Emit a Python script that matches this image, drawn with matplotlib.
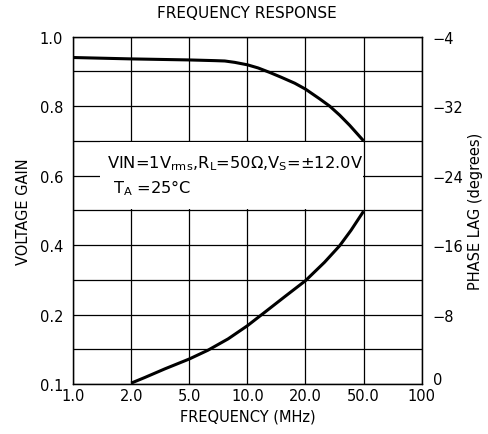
import numpy as np
import matplotlib
matplotlib.use("Agg")
import matplotlib.pyplot as plt
import matplotlib.transforms as mtransforms
from matplotlib.patches import Rectangle

# ---- data ----
freq_ticks = [1.0, 2.0, 5.0, 10.0, 20.0, 50.0, 100.0]
freq_labels = ["1.0", "2.0", "5.0", "10.0", "20.0", "50.0", "100"]

gain_grid = np.round(np.arange(0, 1.01, 0.1), 2)
gain_tick_vals = [0.0, 0.2, 0.4, 0.6, 0.8, 1.0]
gain_tick_labels = ["0.1", "0.2", "0.4", "0.6", "0.8", "1.0"]

phase_tick_vals = [0, -8, -16, -24, -32, -40]
phase_tick_labels = ["0", "\u22128", "\u221216", "\u221224", "\u221232", "\u22124"]

gain_freq = [1.0, 2.0, 5.0, 6.79, 7.64, 8.61, 10.0, 11.36, 13.06, 15.0, 17.6,
             20.0, 25.0, 29.3, 34.3, 40.1, 50.0]
gain_vals = [0.940, 0.936, 0.933, 0.931, 0.930, 0.926, 0.919, 0.910, 0.897, 0.883, 0.866,
             0.849, 0.821, 0.800, 0.774, 0.745, 0.700]

phase_freq = [2.0, 2.48, 3.41, 5.0, 6.26, 7.95, 10.0, 12.3, 15.6, 20.0, 27.0, 34.3, 41.0, 50.0]
phase_vals = [-0.1, -0.75, -1.75, -2.88, -3.9, -5.2, -6.71, -8.26, -10.05, -11.90,
              -14.02, -15.93, -17.7, -19.9]

positions = np.arange(len(freq_ticks))


def fpos(f):
    return np.interp(np.log10(f), np.log10(freq_ticks), positions)


FS = 10.5
plt.rcParams['font.family'] = ['DejaVu Sans']
fig = plt.figure(figsize=(4.89, 4.35), dpi=100)
ax = fig.add_axes([0.1493, 0.1149, 0.7131, 0.7985])
ax.set_xlim(positions[0], positions[-1])
ax.set_ylim(0, 1.0)

lw_grid = 0.9
for p in positions:
    ax.axvline(p, color='black', lw=lw_grid, zorder=1)
for g in gain_grid:
    ax.axhline(g, color='black', lw=lw_grid, zorder=1)

# white legend box covering the grid
ax.add_patch(Rectangle((0.464, 0.503), 4.99 - 0.464, 0.697 - 0.503,
                       facecolor='white', edgecolor='none', zorder=2))
ax.text(0.58, 0.637, "VIN=1V$_{\\mathrm{rms}}$,R$_{\\mathrm{L}}$=50\u03a9,V$_{\\mathrm{S}}$=\u00b112.0V",
        fontsize=11.7, va='center', ha='left', zorder=4)
ax.text(0.68, 0.567, "T$_{\\mathrm{A}}$ =25\u00b0C", fontsize=11.7, va='center', ha='left', zorder=4)

ax.plot(fpos(gain_freq), gain_vals, color='black', lw=2.2, zorder=3,
        solid_joinstyle='round', solid_capstyle='butt')

ax.set_xticks(positions)
ax.set_xticklabels(freq_labels, fontsize=FS)
ax.set_yticks(gain_tick_vals)
ax.set_yticklabels(gain_tick_labels, fontsize=FS)
ax.tick_params(axis='x', length=0, pad=3)
ax.tick_params(axis='y', length=0, pad=7)
for s in ax.spines.values():
    s.set_linewidth(lw_grid)

ax.set_xlabel("FREQUENCY (MHz)", fontsize=FS, labelpad=4)
ax.set_ylabel("VOLTAGE GAIN", fontsize=FS, labelpad=6)
ax.set_title("FREQUENCY RESPONSE", fontsize=11, pad=14)

ax2 = ax.twinx()
ax2.set_ylim(0, -40)
ax2.plot(fpos(phase_freq), phase_vals, color='black', lw=2.2, zorder=3,
         solid_joinstyle='round', solid_capstyle='butt')
ax2.set_yticks(phase_tick_vals)
ax2.set_yticklabels(phase_tick_labels, fontsize=FS)
ax2.tick_params(axis='y', length=0, pad=8)
ax2.set_ylabel("PHASE LAG (degrees)", fontsize=FS, labelpad=3)
for s in ax2.spines.values():
    s.set_linewidth(lw_grid)

# bottom right "0" sits slightly above its grid line
lab0 = ax2.get_yticklabels()[0]
lab0.set_transform(lab0.get_transform() +
                   mtransforms.ScaledTranslation(0, 4 / 72, fig.dpi_scale_trans))

fig.savefig("out.png", dpi=100)
